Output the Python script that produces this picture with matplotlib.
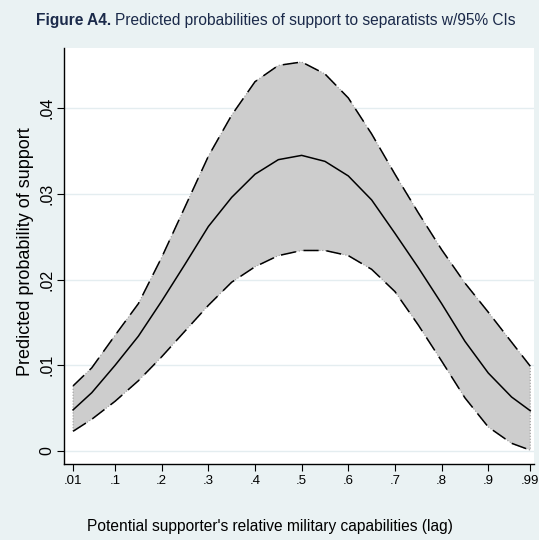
import numpy as np
import matplotlib
matplotlib.use("Agg")
import matplotlib.pyplot as plt

# predicted probabilities and 95% confidence bounds
capability = [0.01, 0.05, 0.10, 0.15, 0.20, 0.25, 0.30, 0.35, 0.40, 0.45, 0.50,
              0.55, 0.60, 0.65, 0.70, 0.75, 0.80, 0.85, 0.90, 0.95, 0.99]
predicted = [0.0048, 0.0068, 0.0100, 0.0134, 0.0175, 0.0218, 0.0262, 0.0296, 0.0323, 0.0340, 0.0345,
             0.0338, 0.0321, 0.0293, 0.0254, 0.0214, 0.0172, 0.0128, 0.0091, 0.0063, 0.0047]
upper = [0.0076, 0.0097, 0.0135, 0.0172, 0.0226, 0.0285, 0.0344, 0.0392, 0.0431, 0.0450, 0.0454,
         0.0440, 0.0412, 0.0370, 0.0323, 0.0278, 0.0235, 0.0196, 0.0162, 0.0127, 0.0099]
lower = [0.0023, 0.0037, 0.0058, 0.0082, 0.0110, 0.0140, 0.0170, 0.0197, 0.0215, 0.0228, 0.0234,
         0.0234, 0.0228, 0.0212, 0.0186, 0.0147, 0.0105, 0.0062, 0.0028, 0.0009, 0.0001]

xticks = [0.01, 0.1, 0.2, 0.3, 0.4, 0.5, 0.6, 0.7, 0.8, 0.9, 0.99]
xticklabels = [".01", ".1", ".2", ".3", ".4", ".5", ".6", ".7", ".8", ".9", ".99"]
yticks = [0, 0.01, 0.02, 0.03, 0.04]
yticklabels = ["0", ".01", ".02", ".03", ".04"]

sans = ["Liberation Sans", "DejaVu Sans"]
bg = "#eaf2f3"

fig = plt.figure(figsize=(5.39, 5.40), dpi=100, facecolor=bg)
ax = fig.add_axes([0.1187, 0.1407, 0.872, 0.7704])
ax.set_facecolor("white")

ax.fill_between(capability, lower, upper, facecolor="#cdcdcd",
                edgecolor="#999999", linestyle=":", linewidth=0.8, zorder=2)
ax.plot(capability, upper, color="black", linewidth=1.1, dashes=(10, 5), zorder=3)
ax.plot(capability, lower, color="black", linewidth=1.1, dashes=(10, 5), zorder=3)
ax.plot(capability, predicted, color="black", linewidth=1.1, zorder=4)

ax.set_xlim(-0.0095, 0.998)
ax.set_ylim(-0.00152, 0.04703)

ax.set_xticks(xticks)
ax.set_xticklabels(xticklabels, family=sans, fontsize=9.5)
ax.set_yticks(yticks)
ax.set_yticklabels(yticklabels, family=sans, fontsize=11.5,
                   rotation=90, va="center")
ax.tick_params(axis="both", direction="out", length=5, width=0.8, color="black")
ax.tick_params(axis="x", pad=3)
ax.tick_params(axis="y", pad=2)

ax.grid(axis="y", color="#e4edf0", linewidth=1.0)
ax.set_axisbelow(True)
for side in ["top", "right"]:
    ax.spines[side].set_visible(False)
for side in ["left", "bottom"]:
    ax.spines[side].set_linewidth(1.0)

ax.set_ylabel("Predicted probability of support", family=sans, fontsize=13,
              va="center")
ax.yaxis.set_label_coords(-0.082, 0.51)
fig.text(0.5, 1 - 526 / 540, "Potential supporter's relative military capabilities (lag)",
         family=sans, fontsize=11.2, ha="center", va="center")

# title: bold lead-in followed by regular text
title_y = 1 - 21 / 540
t1 = fig.text(36 / 539, title_y, "Figure A4.", family=sans, fontsize=11.2,
              fontweight="bold", color="#1b2a4a", va="center")
fig.canvas.draw()
bb = t1.get_window_extent()
fig.text((bb.x1 + 4) / 539, title_y,
         "Predicted probabilities of support to separatists w/95% CIs",
         family=sans, fontsize=11.2, color="#1b2a4a", va="center")

fig.savefig("out.png", dpi=100, facecolor=bg)
